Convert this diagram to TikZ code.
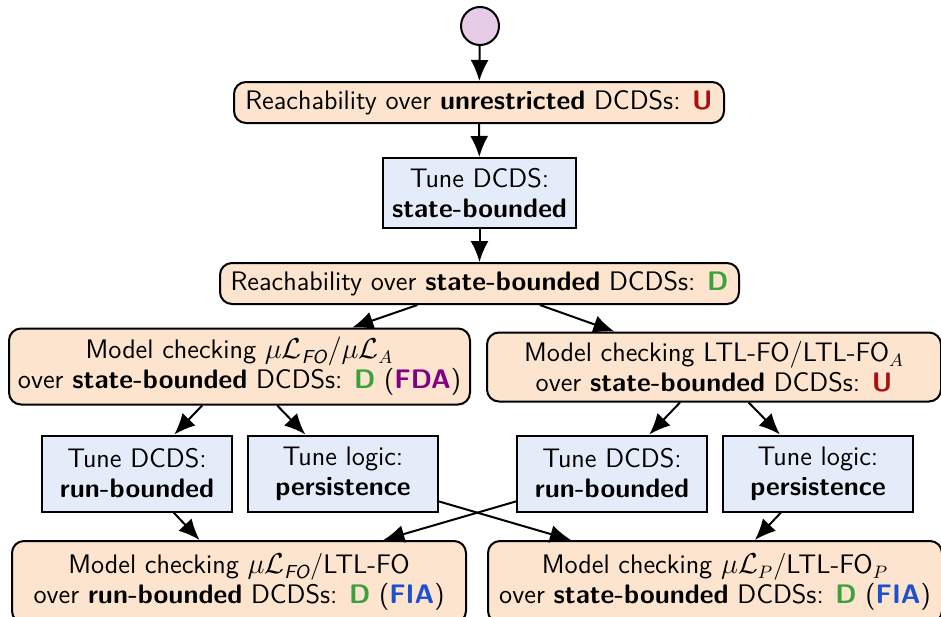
\documentclass[tikz,border=0pt]{standalone}
\usepackage{amsmath}
\usetikzlibrary{arrows.meta}
\definecolor{peach}{RGB}{252,228,206}
\definecolor{tuneblue}{RGB}{229,236,249}
\definecolor{lilac}{RGB}{230,204,230}
\definecolor{ured}{RGB}{170,16,16}
\definecolor{dgreen}{RGB}{60,160,60}
\definecolor{fdapurple}{RGB}{128,0,128}
\definecolor{fiablue}{RGB}{30,80,205}
\newcommand{\FOsub}{\text{\sffamily\itshape FO}}
\newcommand{\resU}{\textcolor{ured}{\textbf{U}}}
\newcommand{\resD}{\textcolor{dgreen}{\textbf{D}}}
\begin{document}
\begin{tikzpicture}[x=0.5pt,y=-0.5pt,
  font=\sffamily\fontsize{13.4}{15}\selectfont,
  >={Latex[length=10.5pt,width=9pt]}, line width=1pt]
\tikzset{
  task/.style={draw, fill=peach, rounded corners=6pt, align=center, inner sep=0pt},
  tunebox/.style={draw, fill=tuneblue, align=center, inner sep=0pt,
                  minimum width=95pt, minimum height=38pt},
  conn/.style={->}
}
\useasboundingbox (0,0) rectangle (941,616);
\clip (0,0) rectangle (941,616);

\node[circle, draw, fill=lilac, minimum size=19pt, inner sep=0pt] (start) at (480,26) {};
\node[task, minimum width=245pt, minimum height=20.5pt] (r1) at (479,102.5)
  {Reachability over \textbf{unrestricted} DCDSs: \resU};
\node[draw, fill=tuneblue, align=center, inner sep=0pt, minimum width=96.5pt, minimum height=35pt] (t1) at (479.5,193)
  {Tune DCDS:\\\textbf{state-bounded}};
\node[task, minimum width=259.5pt, minimum height=20.5pt] (r2) at (479.5,283.5)
  {Reachability over \textbf{state-bounded} DCDSs: \resD};

\node[task, minimum width=230.5pt, minimum height=38pt] (mcl) at (239.5,366.5)
  {Model checking $\mu\mathcal{L}_{\FOsub}/\mu\mathcal{L}_A$\\
   over \textbf{state-bounded} DCDSs: \resD{} (\textcolor{fdapurple}{\textbf{FDA}})};
\node[task, minimum width=227pt, minimum height=34.5pt] (mcr) at (714,367)
  {Model checking LTL-FO/LTL-FO$_A$\\
   over \textbf{state-bounded} DCDSs: \resU};

\node[tunebox] (tdl) at (137,473.5) {Tune DCDS:\\\textbf{run-bounded}};
\node[tunebox] (tpl) at (343,473.5) {Tune logic:\\\textbf{persistence}};
\node[tunebox] (tdr) at (612,473.5) {Tune DCDS:\\\textbf{run-bounded}};
\node[tunebox] (tpr) at (818,473.5) {Tune logic:\\\textbf{persistence}};

\node[task, minimum width=227pt, minimum height=41pt] (mbl) at (239,582)
  {Model checking $\mu\mathcal{L}_{\FOsub}$/LTL-FO\\
   over \textbf{run-bounded} DCDSs: \resD{} (\textcolor{fiablue}{\textbf{FIA}})};
\node[task, minimum width=227pt, minimum height=41pt] (mbr) at (715,582)
  {Model checking $\mu\mathcal{L}_P$/LTL-FO$_P$\\
   over \textbf{state-bounded} DCDSs: \resD{} (\textcolor{fiablue}{\textbf{FIA}})};

\draw[conn] (start) -- (r1);
\draw[conn] (r1) -- (t1);
\draw[conn] (t1) -- (r2);
\draw[conn] (r2) -- (mcl);
\draw[conn] (r2) -- (mcr);
\draw[conn] (mcl) -- (tdl);
\draw[conn] (mcl) -- (tpl);
\draw[conn] (mcr) -- (tdr);
\draw[conn] (mcr) -- (tpr);
\draw[conn] (tdl) -- (mbl);
\draw[conn] (tpl) -- (mbr);
\draw[conn] (tdr) -- (mbl);
\draw[conn] (tpr) -- (mbr);
\end{tikzpicture}
\end{document}
